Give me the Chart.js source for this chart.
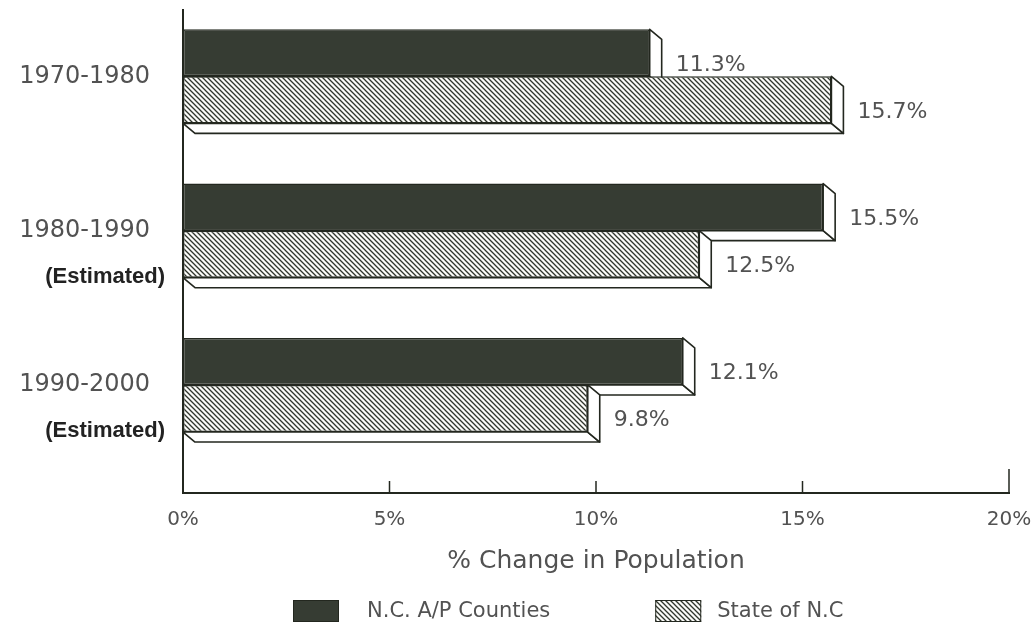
<!DOCTYPE html>
<html>
<head>
<meta charset="utf-8">
<script src="https://cdn.jsdelivr.net/npm/chart.js@4.4.1/dist/chart.umd.min.js"></script>
<style>
  html, body { margin: 0; padding: 0; background: #fff; }
  #wrap { width: 1036px; height: 633px; }
</style>
</head>
<body>
<div id="wrap"><canvas id="chart" width="1036" height="633"></canvas></div>
<script>
// Population change by decade
const periods = ['1970-1980', '1980-1990', '1990-2000'];
const periodNotes = ['', '(Estimated)', '(Estimated)'];
const countiesChange = [11.3, 15.5, 12.1];
const stateChange = [15.7, 12.5, 9.8];
const seriesNames = ['N.C. A/P Counties', 'State of N.C'];
const xTickValues = [0, 5, 10, 15, 20];

const FONT = '"DejaVu Sans", sans-serif';
const TEXT = '#525252';
const INK = '#23271f';
const DARK = '#363c33';
const DX = 12, DY = 10;   // extrusion of the bars (right/down)

const canvas = document.getElementById('chart');
const ctx = canvas.getContext('2d');

// diagonal hatch fill for the state series
function makeHatch() {
  const s = 5;
  const c = document.createElement('canvas');
  c.width = s; c.height = s;
  const g = c.getContext('2d');
  g.fillStyle = '#fbfbf8';
  g.fillRect(0, 0, s, s);
  g.strokeStyle = '#30352d';
  g.lineWidth = 1.3;
  g.beginPath();
  g.moveTo(-1, -1); g.lineTo(s + 1, s + 1);
  g.moveTo(-1, s - 1); g.lineTo(1, s + 1);
  g.moveTo(s - 1, -1); g.lineTo(s + 1, 1);
  g.stroke();
  return ctx.createPattern(c, 'repeat');
}
const hatch = makeHatch();

function poly(c, pts) {
  c.beginPath();
  c.moveTo(pts[0][0], pts[0][1]);
  for (let i = 1; i < pts.length; i++) c.lineTo(pts[i][0], pts[i][1]);
  c.closePath();
  c.fill();
  c.stroke();
}

function barBox(bar) {
  const { x, y, base, height } = bar.getProps(['x', 'y', 'base', 'height'], true);
  return { x, base, top: y - height / 2, bottom: y + height / 2, mid: y };
}

// white side and bottom faces behind each bar, value labels after
const depthPlugin = {
  id: 'depth',
  beforeDatasetsDraw(chart) {
    const c = chart.ctx;
    c.save();
    c.fillStyle = '#fff';
    c.strokeStyle = INK;
    c.lineWidth = 1.6;
    c.lineJoin = 'round';
    chart.data.datasets.forEach((ds, di) => {
      chart.getDatasetMeta(di).data.forEach(bar => {
        const b = barBox(bar);
        poly(c, [[b.base, b.bottom], [b.x, b.bottom], [b.x + DX, b.bottom + DY], [b.base + DX, b.bottom + DY]]);
        poly(c, [[b.x, b.top], [b.x + DX, b.top + DY], [b.x + DX, b.bottom + DY], [b.x, b.bottom]]);
      });
    });
    c.restore();
  },
  afterDatasetsDraw(chart) {
    const c = chart.ctx;
    c.save();
    c.font = '22px ' + FONT;
    c.fillStyle = TEXT;
    c.textAlign = 'left';
    c.textBaseline = 'middle';
    chart.data.datasets.forEach((ds, di) => {
      chart.getDatasetMeta(di).data.forEach((bar, i) => {
        const b = barBox(bar);
        c.fillText(ds.data[i].x.toFixed(1) + '%', b.x + DX + 14, b.mid + DY + 2);
      });
    });
    c.restore();
  }
};

// inner tick marks, period notes and the legend
const decorPlugin = {
  id: 'decor',
  afterDraw(chart) {
    const c = chart.ctx;
    const xs = chart.scales.x, ys = chart.scales.y;
    const area = chart.chartArea;
    c.save();
    c.strokeStyle = INK;
    c.lineWidth = 1.5;
    xTickValues.slice(1).forEach((v, i, arr) => {
      const px = xs.getPixelForValue(v);
      const len = i === arr.length - 1 ? 24 : 12;
      c.beginPath();
      c.moveTo(px, area.bottom);
      c.lineTo(px, area.bottom - len);
      c.stroke();
    });

    c.font = 'bold 22px "Liberation Sans", Arial, sans-serif';
    c.fillStyle = '#222';
    c.textAlign = 'right';
    c.textBaseline = 'middle';
    periodNotes.forEach((note, i) => {
      if (note) c.fillText(note, area.left - 18, ys.getPixelForValue(i) + 46);
    });

    c.font = '21px ' + FONT;
    c.textAlign = 'left';
    let lx = area.left + 110;
    const ly = 600;
    seriesNames.forEach((name, i) => {
      c.fillStyle = chart.data.datasets[i].backgroundColor;
      c.fillRect(lx, ly, 46, 22);
      c.strokeStyle = INK;
      c.lineWidth = 1;
      c.strokeRect(lx + 0.5, ly + 0.5, 45, 21);
      c.fillStyle = TEXT;
      const tx = lx + (i === 0 ? 74 : 62);
      c.fillText(name, tx, ly + 12);
      lx = tx + c.measureText(name).width + 105;
    });
    c.restore();
  }
};

new Chart(canvas, {
  type: 'bar',
  data: {
    datasets: [
      {
        label: seriesNames[0],
        data: countiesChange.map((v, i) => ({ x: v, y: i })),
        backgroundColor: DARK,
        borderColor: INK,
        borderWidth: 1.5,
        borderSkipped: false
      },
      {
        label: seriesNames[1],
        data: stateChange.map((v, i) => ({ x: v, y: i })),
        backgroundColor: hatch,
        borderColor: INK,
        borderWidth: 1.5,
        borderSkipped: false
      }
    ]
  },
  options: {
    indexAxis: 'y',
    responsive: false,
    animation: false,
    devicePixelRatio: 1,
    categoryPercentage: 0.61,
    barPercentage: 1,
    layout: { padding: { top: 10, right: 27, bottom: 57, left: 0 } },
    scales: {
      x: {
        type: 'linear',
        min: 0,
        max: 20,
        afterBuildTicks: s => { s.ticks = xTickValues.map(v => ({ value: v })); },
        afterFit: s => { s.height = 83; s.paddingLeft = 0; s.paddingRight = 0; },
        grid: { display: false, drawTicks: false },
        border: { display: true, color: INK, width: 2 },
        ticks: {
          padding: 15,
          color: TEXT,
          font: { family: FONT, size: 20 },
          callback: v => v + '%'
        },
        title: {
          display: true,
          text: '% Change in Population',
          color: TEXT,
          font: { family: FONT, size: 25 },
          padding: { top: 0, bottom: 0 }
        }
      },
      y: {
        type: 'linear',
        reverse: true,
        offset: false,
        min: -0.43,
        max: 2.7,
        afterBuildTicks: s => { s.ticks = periods.map((p, i) => ({ value: i })); },
        afterFit: s => { s.width = 183; s.paddingTop = 0; s.paddingBottom = 0; },
        grid: { display: false, drawTicks: false, offset: false },
        border: { display: true, color: INK, width: 2 },
        ticks: {
          autoSkip: false,
          padding: 33,
          color: TEXT,
          font: { family: FONT, size: 24 },
          callback: v => periods[v] ?? ''
        }
      }
    },
    plugins: {
      legend: { display: false },
      tooltip: { enabled: false }
    }
  },
  plugins: [depthPlugin, decorPlugin]
});
</script>
</body>
</html>
